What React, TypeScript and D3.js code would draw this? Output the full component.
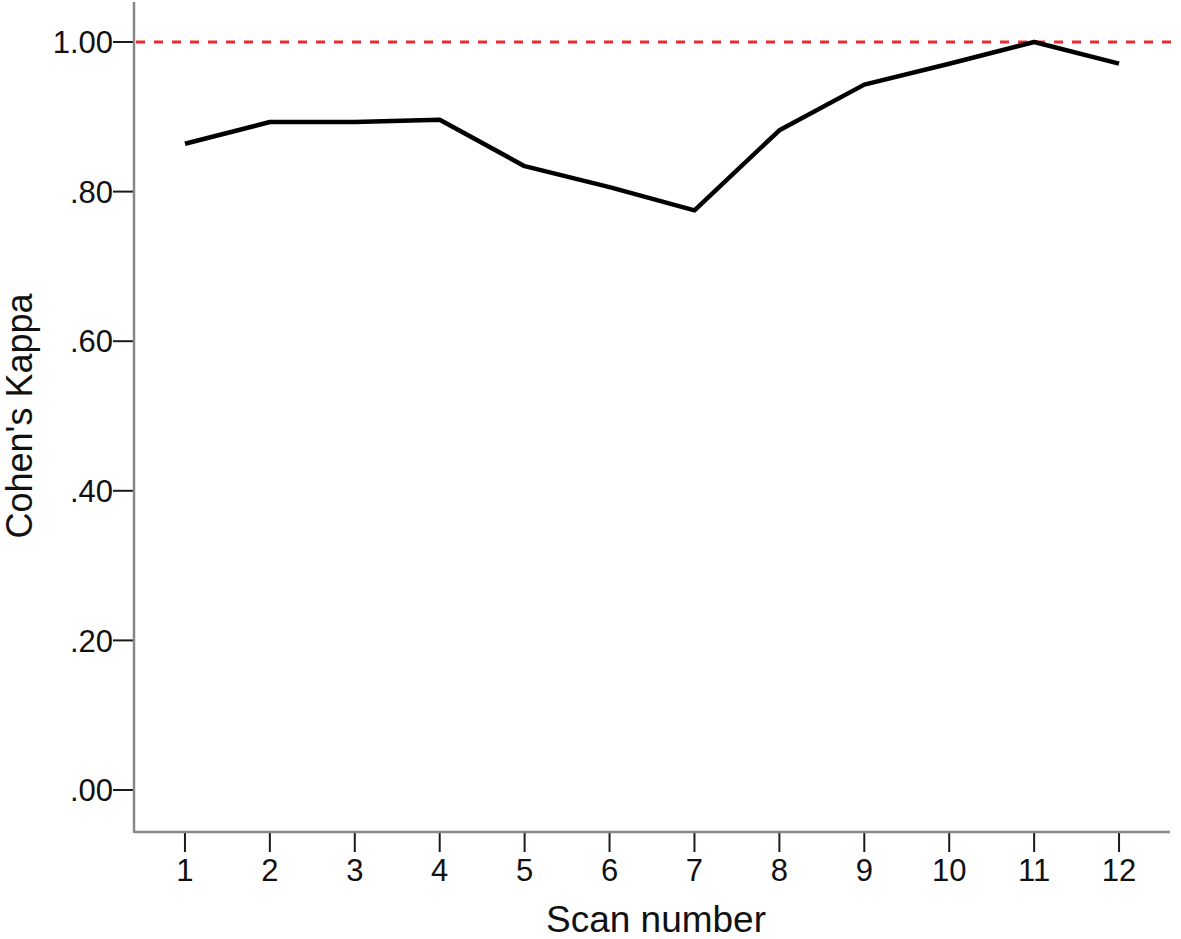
import React, { useEffect, useRef } from 'react';
import * as d3 from 'd3';

const scans = ['1', '2', '3', '4', '5', '6', '7', '8', '9', '10', '11', '12'];
const kappa = [0.864, 0.893, 0.893, 0.896, 0.834, 0.806, 0.775, 0.882, 0.943, 0.971, 1.0, 0.971];
const yTicks = [0, 0.2, 0.4, 0.6, 0.8, 1.0];
const referenceLine = 1.0;

const App = () => {
    const svgRef = useRef(null);

    useEffect(() => {
        const width = 1181;
        const height = 939;
        const left = 134;
        const right = 1170;
        const top = 2;
        const bottom = 832;

        const svg = d3.select(svgRef.current);
        svg.selectAll('*').remove();

        const x = d3.scalePoint()
            .domain(scans)
            .range([left, right])
            .padding(0.6);

        // 0 at 790, 1.00 at 42
        const y = d3.scaleLinear()
            .domain([0, 1])
            .range([790, 42]);

        const font = 'Arial, "Liberation Sans", sans-serif';

        // y ticks
        const yAxis = svg.append('g');
        yAxis.selectAll('line')
            .data(yTicks)
            .join('line')
            .attr('x1', left - 21)
            .attr('x2', left)
            .attr('y1', d => y(d))
            .attr('y2', d => y(d))
            .attr('stroke', '#1a1a1a')
            .attr('stroke-width', 2);
        yAxis.selectAll('text')
            .data(yTicks)
            .join('text')
            .attr('x', left - 21)
            .attr('y', d => y(d))
            .attr('dy', '0.36em')
            .attr('text-anchor', 'end')
            .style('font-family', font)
            .style('font-size', '31px')
            .attr('fill', '#111')
            .text(d => (d === 1 ? '1.00' : d3.format('.2f')(d).replace(/^0/, '')));

        // x ticks
        const xAxis = svg.append('g');
        xAxis.selectAll('line')
            .data(scans)
            .join('line')
            .attr('x1', d => x(d))
            .attr('x2', d => x(d))
            .attr('y1', bottom)
            .attr('y2', bottom + 20)
            .attr('stroke', '#1a1a1a')
            .attr('stroke-width', 2);
        xAxis.selectAll('text')
            .data(scans)
            .join('text')
            .attr('x', d => x(d))
            .attr('y', 881)
            .attr('text-anchor', 'middle')
            .style('font-family', font)
            .style('font-size', '31px')
            .attr('fill', '#111')
            .text(d => d);

        // axis frame lines
        svg.append('line')
            .attr('x1', left).attr('x2', left)
            .attr('y1', top).attr('y2', bottom + 1)
            .attr('stroke', '#888')
            .attr('stroke-width', 2.5);
        svg.append('line')
            .attr('x1', left).attr('x2', right)
            .attr('y1', bottom).attr('y2', bottom)
            .attr('stroke', '#888')
            .attr('stroke-width', 2.5);

        // reference line at 1.00
        svg.append('line')
            .attr('x1', left + 2).attr('x2', right + 10)
            .attr('y1', y(referenceLine)).attr('y2', y(referenceLine))
            .attr('stroke', '#ee2a30')
            .attr('stroke-width', 3)
            .attr('stroke-dasharray', '9 9');

        const line = d3.line()
            .x((d, i) => x(scans[i]))
            .y(d => y(d));

        svg.append('path')
            .datum(kappa)
            .attr('d', line)
            .attr('fill', 'none')
            .attr('stroke', '#000')
            .attr('stroke-width', 4.5)
            .attr('stroke-linejoin', 'round');

        // titles
        svg.append('text')
            .attr('x', 656)
            .attr('y', 932)
            .attr('text-anchor', 'middle')
            .style('font-family', font)
            .style('font-size', '37px')
            .attr('fill', '#111')
            .text('Scan number');

        svg.append('text')
            .attr('transform', `translate(32, 416) rotate(-90)`)
            .attr('text-anchor', 'middle')
            .style('font-family', font)
            .style('font-size', '36px')
            .attr('fill', '#111')
            .text("Cohen's Kappa");

        svg.attr('width', width).attr('height', height);
    }, []);

    return (
        <svg
            ref={svgRef}
            style={{ position: 'absolute', left: 0, top: 0, background: '#fff' }}
        ></svg>
    );
};

export default App;
